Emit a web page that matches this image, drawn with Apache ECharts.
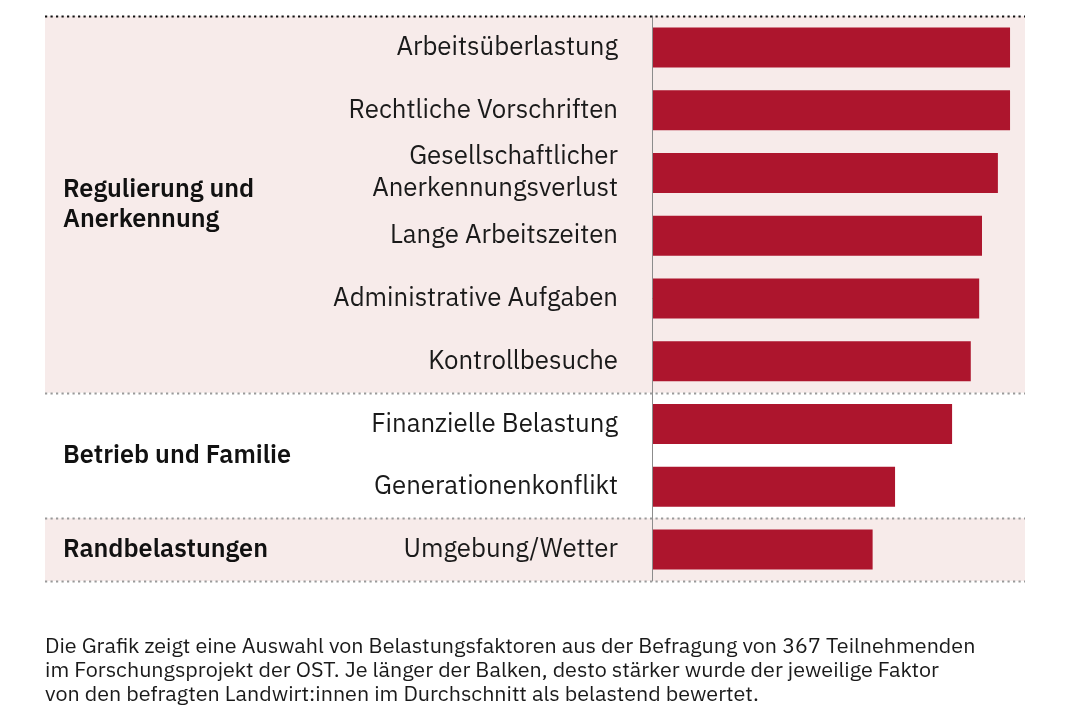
<!DOCTYPE html>
<html>
<head>
<meta charset="utf-8">
<script src="https://cdn.jsdelivr.net/npm/echarts@6/dist/echarts.min.js"></script>
<style>
  html, body { margin: 0; padding: 0; background: #fff; }
  #chart { width: 1072px; height: 715px; }
</style>
</head>
<body>
<div id="chart"></div>
<script>
// Belastungsfaktoren, von oben nach unten
var categories = [
    'Arbeitsüberlastung',
    'Rechtliche Vorschriften',
    'Gesellschaftlicher\nAnerkennungsverlust',
    'Lange Arbeitszeiten',
    'Administrative Aufgaben',
    'Kontrollbesuche',
    'Finanzielle Belastung',
    'Generationenkonflikt',
    'Umgebung/Wetter'
];
var values = [3.83, 3.83, 3.70, 3.53, 3.50, 3.41, 3.21, 2.60, 2.36];

// Gruppen: Name, erster und letzter Faktor (Index), Hintergrund ja/nein
var groupNames = ['Regulierung und\nAnerkennung', 'Betrieb und Familie', 'Randbelastungen'];
var groupFirst = [0, 6, 8];
var groupLast = [5, 7, 8];
var groupShaded = [true, false, true];

var footnote = [
    'Die Grafik zeigt eine Auswahl von Belastungsfaktoren aus der Befragung von 367 Teilnehmenden',
    'im Forschungsprojekt der OST. Je länger der Balken, desto stärker wurde der jeweilige Faktor',
    'von den befragten Landwirt:innen im Durchschnitt als belastend bewertet.'
];

var FONT = '"IBM Plex Sans", "Noto Sans", sans-serif';
var PINK = '#f7ebea';
var RED = '#ad152d';

var chart = echarts.init(document.getElementById('chart'));

var option = {
    animation: false,
    grid: { left: 652, right: 47, top: 16, bottom: 134, containLabel: false },
    xAxis: {
        type: 'value',
        min: 0,
        max: 3.99,
        show: false
    },
    yAxis: {
        type: 'category',
        inverse: true,
        data: categories,
        axisLine: { show: true, lineStyle: { color: '#8c8c8c', width: 1 } },
        axisTick: { show: false },
        axisLabel: {
            margin: 34,
            fontFamily: FONT,
            fontSize: 25.8,
            lineHeight: 32,
            color: '#1a1a1a'
        },
        z: 5
    },
    series: [{
        type: 'bar',
        data: values,
        barWidth: 40,
        itemStyle: { color: RED },
        z: 3,
        silent: true
    }]
};
chart.setOption(option);

// Gruppenhintergründe, Trennlinien und Gruppennamen aus der Achse ableiten
function buildGraphic() {
    var step = chart.convertToPixel({ yAxisIndex: 0 }, categories[1]) -
               chart.convertToPixel({ yAxisIndex: 0 }, categories[0]);
    var x0 = 45, x1 = 1025;
    var els = [];
    var edges = [];
    for (var g = 0; g < groupNames.length; g++) {
        var top = chart.convertToPixel({ yAxisIndex: 0 }, categories[groupFirst[g]]) - step / 2;
        var bot = chart.convertToPixel({ yAxisIndex: 0 }, categories[groupLast[g]]) + step / 2;
        if (groupShaded[g]) {
            els.push({
                type: 'rect', z: -10, silent: true,
                shape: { x: x0, y: top, width: x1 - x0, height: bot - top },
                style: { fill: PINK }
            });
        }
        els.push({
            type: 'text', z: 10, silent: true,
            x: 63, y: (top + bot) / 2,
            style: {
                text: groupNames[g],
                fontFamily: FONT, fontSize: 25.2, fontWeight: 600,
                lineHeight: 30, fill: '#111',
                verticalAlign: 'middle', align: 'left'
            }
        });
        if (g === 0) edges.push({ y: top, color: '#111' });
        edges.push({ y: bot, color: '#9a9a9a' });
    }
    edges.forEach(function (e) {
        els.push({
            type: 'line', z: 20, silent: true,
            shape: { x1: x0, y1: Math.round(e.y) + 0.5, x2: x1, y2: Math.round(e.y) + 0.5 },
            style: { stroke: e.color, lineWidth: 2.2, lineDash: [2.2, 3.3] }
        });
    });
    els.push({
        type: 'text', z: 10, silent: true,
        x: 45, y: 635,
        style: {
            text: footnote.join('\n'),
            fontFamily: FONT, fontSize: 21.5, lineHeight: 24,
            fill: '#1a1a1a', align: 'left', verticalAlign: 'top'
        }
    });
    chart.setOption({ graphic: els });
}
buildGraphic();

window.onresize = function () {
    chart.resize();
    buildGraphic();
};
</script>
</body>
</html>
